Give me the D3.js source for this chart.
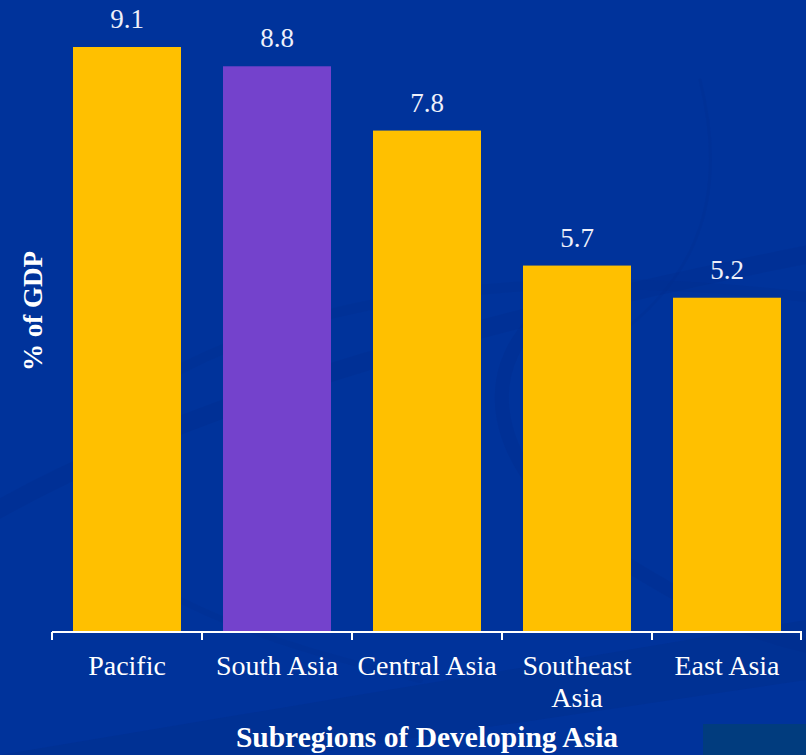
<!DOCTYPE html>
<html>
<head>
<meta charset="utf-8">
<script src="https://cdn.jsdelivr.net/npm/d3@7/dist/d3.min.js"></script>
<style>
  html, body { margin: 0; padding: 0; background: #00339b; }
  svg { display: block; }
</style>
</head>
<body>
<script>
// Government expenditure by subregion, % of GDP
const categories = ["Pacific", "South Asia", "Central Asia", "Southeast Asia", "East Asia"];
const categoryLines = [["Pacific"], ["South Asia"], ["Central Asia"], ["Southeast", "Asia"], ["East Asia"]];
const values = [9.1, 8.8, 7.8, 5.7, 5.2];
const barColors = ["#ffc000", "#7442cc", "#ffc000", "#ffc000", "#ffc000"];
const yTitle = "% of GDP";
const xTitle = "Subregions of Developing Asia";

const W = 806, H = 755;
const serif = "'Liberation Serif', 'DejaVu Serif', serif";
const svg = d3.select("body").append("svg").attr("width", W).attr("height", H);

// backdrop with faint darker swooshes
svg.append("rect").attr("width", W).attr("height", H).attr("fill", "#00339b");
const deco = svg.append("g").attr("fill", "none").attr("stroke", "#002a85").attr("stroke-linecap", "round");
deco.append("path").attr("d", "M -20 520 C 150 420, 420 330, 830 250").attr("stroke-width", 18).attr("opacity", 0.22);
deco.append("path").attr("d", "M 160 380 C 300 300, 520 260, 830 300").attr("stroke-width", 10).attr("opacity", 0.18);
deco.append("path").attr("d", "M 560 300 C 470 360, 480 470, 620 560 C 700 610, 760 640, 830 650").attr("stroke-width", 14).attr("opacity", 0.22);
deco.append("path").attr("d", "M 700 80 C 730 200, 700 300, 560 370").attr("stroke-width", 3).attr("opacity", 0.15);
deco.append("path").attr("d", "M 180 600 C 260 640, 340 660, 420 680").attr("stroke-width", 6).attr("opacity", 0.18);
svg.append("path").attr("d", "M 0 755 L 806 620 L 806 680 L 300 755 Z").attr("fill", "#002e8c").attr("opacity", 0.45);
svg.append("rect").attr("x", 703).attr("y", 724).attr("width", W - 703).attr("height", H - 724).attr("fill", "#013c7e");

const x = d3.scaleBand().domain(categories).range([52, 802]).paddingInner(0.28).paddingOuter(0.14);
const y = d3.scaleLinear().domain([0, 9.1]).range([632, 47]);

// bars
svg.append("g").selectAll("rect").data(values).join("rect")
  .attr("x", (d, i) => x(categories[i]))
  .attr("y", d => y(d))
  .attr("width", x.bandwidth())
  .attr("height", d => y(0) - y(d))
  .attr("fill", (d, i) => barColors[i]);

// value labels
svg.append("g").selectAll("text").data(values).join("text")
  .attr("x", (d, i) => x(categories[i]) + x.bandwidth() / 2)
  .attr("y", d => y(d) - 19)
  .attr("text-anchor", "middle")
  .style("font-family", serif)
  .attr("font-size", 27)
  .attr("fill", "#eef0fa")
  .text(d => d.toFixed(1));

// x axis with ticks between categories
const axis = svg.append("g").attr("transform", `translate(0,${y(0)})`)
  .call(d3.axisBottom(x).tickSize(0).tickFormat(""));
axis.select(".domain").remove();
axis.append("line").attr("x1", 52).attr("x2", 802).attr("y1", 0).attr("y2", 0)
  .attr("stroke", "#ffffff").attr("stroke-width", 2);
const bounds = [52].concat(categories.map(c => x(c) + x.bandwidth() + x.step() * x.paddingInner() / 2));
bounds[bounds.length - 1] = 801;
axis.selectAll(".sep").data(bounds).join("line").attr("class", "sep")
  .attr("x1", d => d).attr("x2", d => d).attr("y1", 0).attr("y2", 8)
  .attr("stroke", "#ffffff").attr("stroke-width", 2);

// category labels
const cat = svg.append("g").style("font-family", serif).attr("font-size", 28)
  .attr("fill", "#ffffff").attr("text-anchor", "middle");
categoryLines.forEach((lines, i) => {
  const t = cat.append("text").attr("x", x(categories[i]) + x.bandwidth() / 2).attr("y", 675);
  lines.forEach((ln, j) => {
    t.append("tspan").attr("x", x(categories[i]) + x.bandwidth() / 2).attr("dy", j === 0 ? 0 : 32).text(ln);
  });
});

// axis titles
svg.append("text").attr("x", 427).attr("y", 747).attr("text-anchor", "middle")
  .style("font-family", serif).attr("font-weight", "bold").attr("font-size", 29.5)
  .attr("fill", "#ffffff").text(xTitle);
svg.append("text").attr("transform", "translate(42,311) rotate(-90)").attr("text-anchor", "middle")
  .style("font-family", serif).attr("font-weight", "bold").attr("font-size", 27)
  .attr("fill", "#ffffff").text(yTitle);
</script>
</body>
</html>
